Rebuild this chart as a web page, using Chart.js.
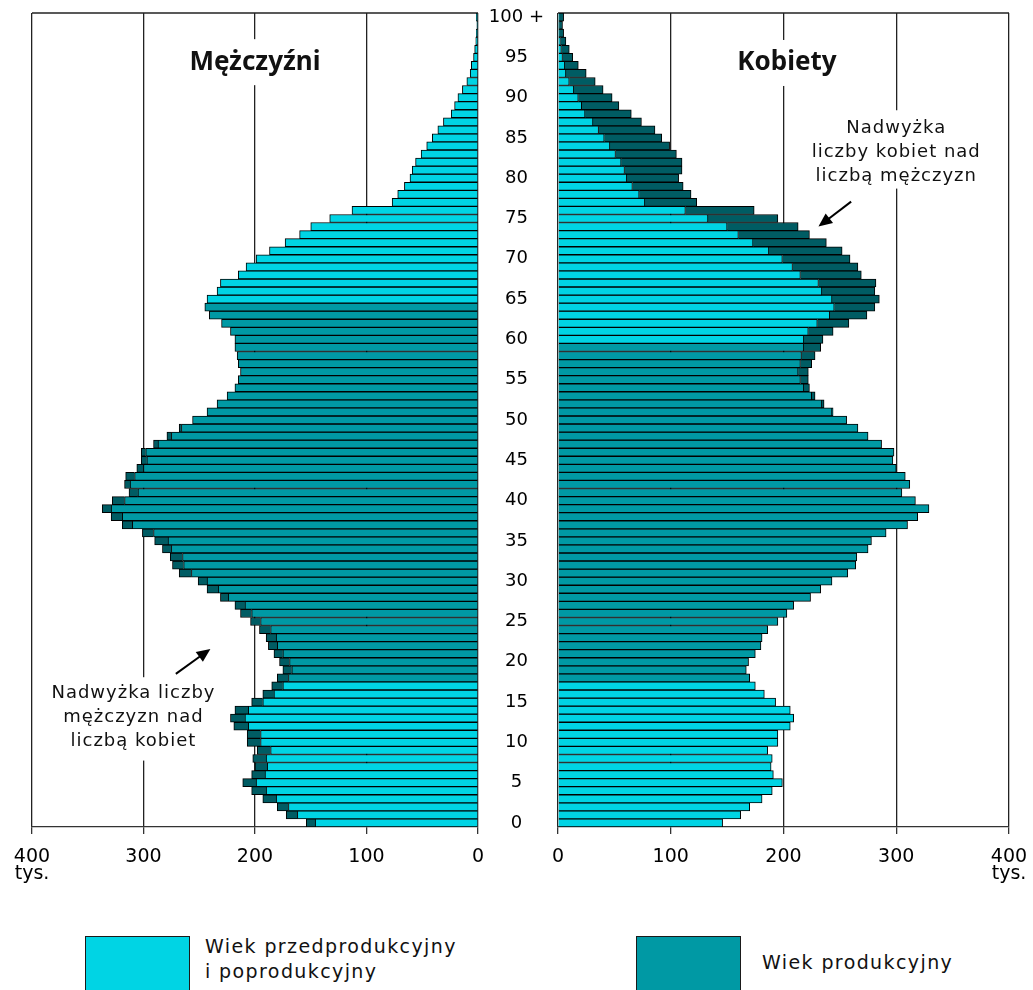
<!DOCTYPE html>
<html lang="pl">
<head>
<meta charset="utf-8">
<title>Ludność według płci i wieku</title>
<script src="https://cdn.jsdelivr.net/npm/chart.js@4.4.1/dist/chart.umd.min.js"></script>
<style>
  html, body { margin: 0; padding: 0; background: #fff; overflow: hidden; }
  body { width: 1033px; height: 990px; position: relative; font-family: 'DejaVu Sans', sans-serif; }
  #men { position: absolute; left: 0; top: 0; }
  #women { position: absolute; left: 478px; top: 0; }
  .box { position: absolute; top: 936px; width: 103px; height: 80px; border: 1px solid #1a1a1a; }
  .txt { position: absolute; font-size: 19px; letter-spacing: 1.4px; line-height: 25px; color: #111; }
</style>
</head>
<body>
<canvas id="men" width="500" height="900"></canvas>
<canvas id="women" width="555" height="900"></canvas>

<div class="box" style="left:85px; background:#00d4e4"></div>
<div class="txt" style="left:205px; top:934px">Wiek przedprodukcyjny<br>i poprodukcyjny</div>
<div class="box" style="left:636px; background:#0099a4"></div>
<div class="txt" style="left:762px; top:950px">Wiek produkcyjny</div>

<script>
// wiek w latach, 0 .. 100 (ostatnia grupa = 100 i więcej)
const ages = [];
for (let a = 0; a <= 100; a++) ages.push(a);

const ageTickLabels = ['0', '5', '10', '15', '20', '25', '30', '35', '40', '45', '50',
                       '55', '60', '65', '70', '75', '80', '85', '90', '95', '100 +'];
const valueTicks = [0, 100, 200, 300, 400];
const unitLabel = 'tys.';

// ludność w tys., wg wieku 0..100+
const men = [
    154, 172, 180, 193, 203, 211, 203, 200, 202, 198,
    207, 207, 219, 222, 218, 203, 193, 185, 180, 175,
    178, 183, 188, 190, 196, 204, 213, 218, 231, 243,
    251, 268, 274, 276, 283, 290, 301, 319, 329, 337,
    328, 313, 317, 316, 306, 302, 302, 291, 279, 268,
    256, 243, 234, 225, 218, 215, 213, 215, 216, 218,
    218, 222, 230, 241, 245, 243, 234, 231, 215, 208,
    199, 187, 173, 160, 150, 133, 113, 77, 72, 66,
    61, 59, 56, 51, 46, 41, 36, 31, 24, 21,
    18, 14, 10, 7, 6, 4, 3, 2, 1.5, 1,
    1.5
];
const women = [
    146, 162, 170, 181, 190, 199, 191, 189, 190, 186,
    195, 195, 206, 209, 206, 193, 183, 175, 170, 167,
    169, 175, 180, 181, 186, 195, 203, 209, 224, 233,
    243, 257, 264, 265, 275, 278, 291, 310, 319, 329,
    317, 305, 312, 308, 300, 297, 298, 287, 275, 266,
    256, 244, 236, 228, 223, 222, 222, 225, 228, 233,
    235, 244, 258, 274, 281, 285, 281, 282, 269, 266,
    259, 252, 238, 223, 213, 195, 174, 123, 118, 111,
    107, 110, 110, 105, 99, 92, 86, 74, 65, 54,
    48, 40, 33, 25, 18, 13, 10, 7, 5, 4,
    5
];

// wiek produkcyjny
const menProductive = [18, 64];
const womenProductive = [18, 59];

const COLOR_NONPROD = '#00d4e4';
const COLOR_PROD = '#0099a4';
const COLOR_SURPLUS = '#005c63';
const FONT = 'DejaVu Sans';

//---------------------------------------------------------------
// DATA -> base part (common with other sex) + surplus part
//---------------------------------------------------------------
function buildSide(own, other, prod) {
    let base = [], surplus = [], colors = [];
    for (let i = 0; i < own.length; i++) {
        let lo = Math.min(own[i], other[i]);
        base.push(lo);
        surplus.push(own[i] > lo ? own[i] - lo : null);
        colors.push(ages[i] >= prod[0] && ages[i] <= prod[1] ? COLOR_PROD : COLOR_NONPROD);
    }
    return { base: base, surplus: surplus, colors: colors };
}

//---------------------------------------------------------------
// texts with white background + arrows, placed in data units
//---------------------------------------------------------------
function notesPlugin(notes, arrow) {
    return {
        id: 'notes',
        beforeDatasetsDraw(chart) {
            let ctx = chart.ctx, a = chart.chartArea;
            ctx.save();
            ctx.strokeStyle = '#222';
            ctx.lineWidth = 1.3;
            ctx.beginPath();
            ctx.moveTo(a.left, a.top);
            ctx.lineTo(a.right, a.top);
            ctx.stroke();
            ctx.restore();
        },
        afterDatasetsDraw(chart) {
            let ctx = chart.ctx, xs = chart.scales.x, ys = chart.scales.y;
            notes.forEach(n => {
                ctx.save();
                ctx.font = n.font;
                ctx.letterSpacing = n.spacing;
                ctx.textAlign = 'center';
                ctx.textBaseline = 'middle';
                let cx = xs.getPixelForValue(n.x);
                let ys_ = n.lines.map((l, i) => ys.getPixelForValue(n.age - i * n.gap));
                let w = Math.max(...n.lines.map(l => ctx.measureText(l).width)) + 12;
                ctx.fillStyle = '#fff';
                ctx.fillRect(cx - w / 2, ys_[0] - n.padTop, w, ys_[ys_.length - 1] - ys_[0] + n.padTop + n.padBottom);
                ctx.fillStyle = '#111';
                n.lines.forEach((l, i) => ctx.fillText(l, cx, ys_[i]));
                ctx.restore();
            });
            if (arrow) {
                let x0 = xs.getPixelForValue(arrow.from[0]), y0 = ys.getPixelForValue(arrow.from[1]);
                let x1 = xs.getPixelForValue(arrow.to[0]), y1 = ys.getPixelForValue(arrow.to[1]);
                let ang = Math.atan2(y1 - y0, x1 - x0);
                ctx.save();
                ctx.strokeStyle = '#000';
                ctx.fillStyle = '#000';
                ctx.lineWidth = 2;
                ctx.beginPath();
                ctx.moveTo(x0, y0);
                ctx.lineTo(x1 - 10 * Math.cos(ang), y1 - 10 * Math.sin(ang));
                ctx.stroke();
                ctx.beginPath();
                ctx.moveTo(x1, y1);
                ctx.lineTo(x1 - 15 * Math.cos(ang - 0.42), y1 - 15 * Math.sin(ang - 0.42));
                ctx.lineTo(x1 - 15 * Math.cos(ang + 0.42), y1 - 15 * Math.sin(ang + 0.42));
                ctx.closePath();
                ctx.fill();
                ctx.restore();
            }
        }
    };
}

//---------------------------------------------------------------
// CHART CONFIG
//---------------------------------------------------------------
function makeConfig(side, isLeft, notes, arrow) {
    return {
        type: 'bar',
        data: {
            labels: ages.map(String),
            datasets: [{
                data: side.base,
                backgroundColor: side.colors,
                borderColor: '#000',
                borderWidth: 1,
                barPercentage: 1,
                categoryPercentage: 1
            }, {
                data: side.surplus,
                backgroundColor: COLOR_SURPLUS,
                borderColor: '#000',
                borderWidth: 1,
                barPercentage: 1,
                categoryPercentage: 1
            }]
        },
        options: {
            indexAxis: 'y',
            responsive: false,
            animation: false,
            devicePixelRatio: 1,
            layout: { padding: isLeft ? { left: 32, right: 22, top: 13, bottom: 0 }
                                      : { left: 0, right: 24, top: 13, bottom: 0 } },
            plugins: { legend: { display: false }, tooltip: { enabled: false } },
            scales: {
                x: {
                    type: 'linear', min: 0, max: 400, reverse: isLeft, stacked: true,
                    afterFit: s => {
                        s.height = 73;
                        // plot edges come only from layout padding
                        s.paddingLeft = 0;
                        s.paddingRight = 0;
                    },
                    afterBuildTicks: s => { s.ticks = valueTicks.map(v => ({ value: v })); },
                    ticks: {
                        color: '#000', padding: 15, maxRotation: 0,
                        font: { family: FONT, size: 19, lineHeight: 0.87 },
                        callback: v => v === 400 ? [String(v), unitLabel] : String(v)
                    },
                    grid: { color: '#222', lineWidth: 1.3, drawTicks: true, tickLength: 7, tickColor: '#333' },
                    border: { display: true, color: '#333', width: 1.3 }
                },
                y: {
                    type: 'category', reverse: true, stacked: true, display: !isLeft,
                    afterFit: s => {
                        s.width = isLeft ? 0 : 80;
                        // keep the plot area the same height as on the other side
                        s.paddingTop = 0;
                        s.paddingBottom = 0;
                    },
                    grid: { display: false, drawTicks: false },
                    border: { display: false },
                    ticks: {
                        autoSkip: false, crossAlign: 'center', padding: 14, color: '#000',
                        font: { family: FONT, size: 18 },
                        callback: (v, i) => ages[i] % 5 === 0 ? ageTickLabels[ages[i] / 5] : ''
                    }
                }
            }
        },
        plugins: [notesPlugin(notes, arrow)]
    };
}

let menSide = buildSide(men, women, menProductive);
let womenSide = buildSide(women, men, womenProductive);

new Chart(document.getElementById('men'), makeConfig(menSide, true, [
    { lines: ['Mężczyźni'], x: 200, age: 94.4, gap: 3, font: 'bold 26px "Noto Sans"', spacing: '0px', padTop: 23, padBottom: 23 },
    { lines: ['Nadwyżka liczby', 'mężczyzn nad', 'liczbą kobiet'], x: 309, age: 16.1, gap: 3,
      font: '18px "DejaVu Sans"', spacing: '1px', padTop: 16, padBottom: 19 }
], { from: [271, 18.5], to: [240, 21.6] }));

new Chart(document.getElementById('women'), makeConfig(womenSide, false, [
    { lines: ['Kobiety'], x: 203, age: 94.3, gap: 3, font: 'bold 26px "Noto Sans"', spacing: '0px', padTop: 23, padBottom: 23 },
    { lines: ['Nadwyżka', 'liczby kobiet nad', 'liczbą mężczyzn'], x: 300, age: 86.2, gap: 3,
      font: '18px "DejaVu Sans"', spacing: '1px', padTop: 18, padBottom: 12 }
], { from: [260, 77.1], to: [231, 74.0] }));
</script>
</body>
</html>
